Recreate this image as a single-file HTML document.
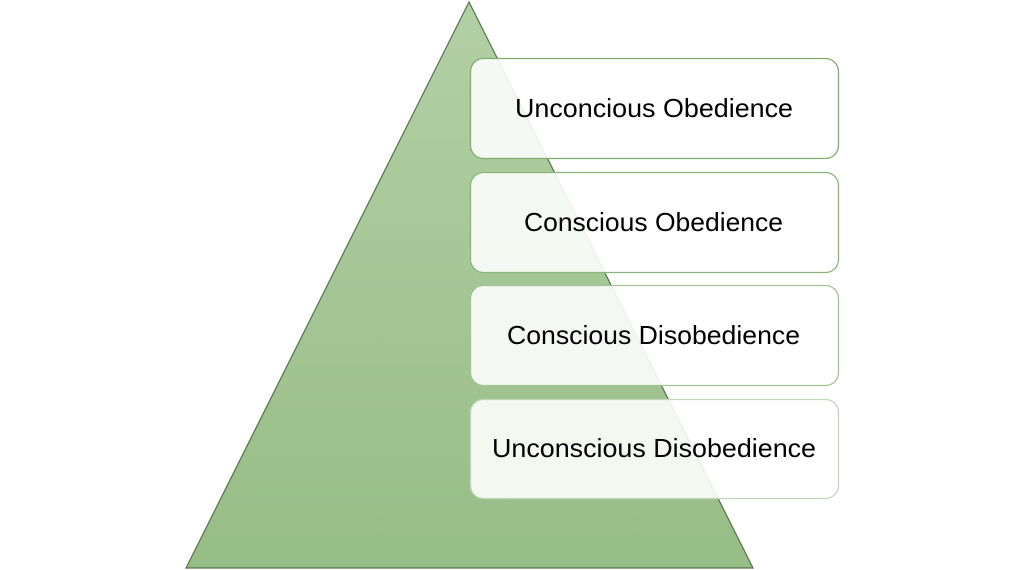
<!DOCTYPE html>
<html><head><style>
html,body{margin:0;padding:0;background:#fff;width:1024px;height:570px;overflow:hidden}
svg{display:block}
text{font-family:"Liberation Sans",sans-serif;font-size:26px;fill:#000}
</style></head><body>
<svg width="1024" height="570" viewBox="0 0 1024 570">
<defs>
<linearGradient id="g" x1="0" y1="0" x2="0" y2="1">
<stop offset="0" stop-color="#b2d0a5"/><stop offset="1" stop-color="#97bd86"/>
</linearGradient>
</defs>
<polygon points="469,2 186,568 753,568" fill="url(#g)" stroke="#54704a" stroke-width="1.2"/>
<g fill="#ffffff" fill-opacity="0.88" stroke-width="1.3">
<rect x="470.5" y="58.5" width="368" height="100" rx="13" stroke="#7fae6c"/>
<rect x="470.5" y="172.5" width="368" height="100" rx="13" stroke="#8ab57a"/>
<rect x="470.5" y="285.5" width="368" height="100" rx="13" stroke="#a2c495"/>
<rect x="470.5" y="399.5" width="368" height="99" rx="13" stroke="#c3d6bc"/>
</g>
<text x="515" y="117" textLength="278" lengthAdjust="spacingAndGlyphs">Unconcious Obedience</text>
<text x="524" y="231" textLength="259" lengthAdjust="spacingAndGlyphs">Conscious Obedience</text>
<text x="507" y="344" textLength="293" lengthAdjust="spacingAndGlyphs">Conscious Disobedience</text>
<text x="492" y="457" textLength="324" lengthAdjust="spacingAndGlyphs">Unconscious Disobedience</text>
</svg>
</body></html>
